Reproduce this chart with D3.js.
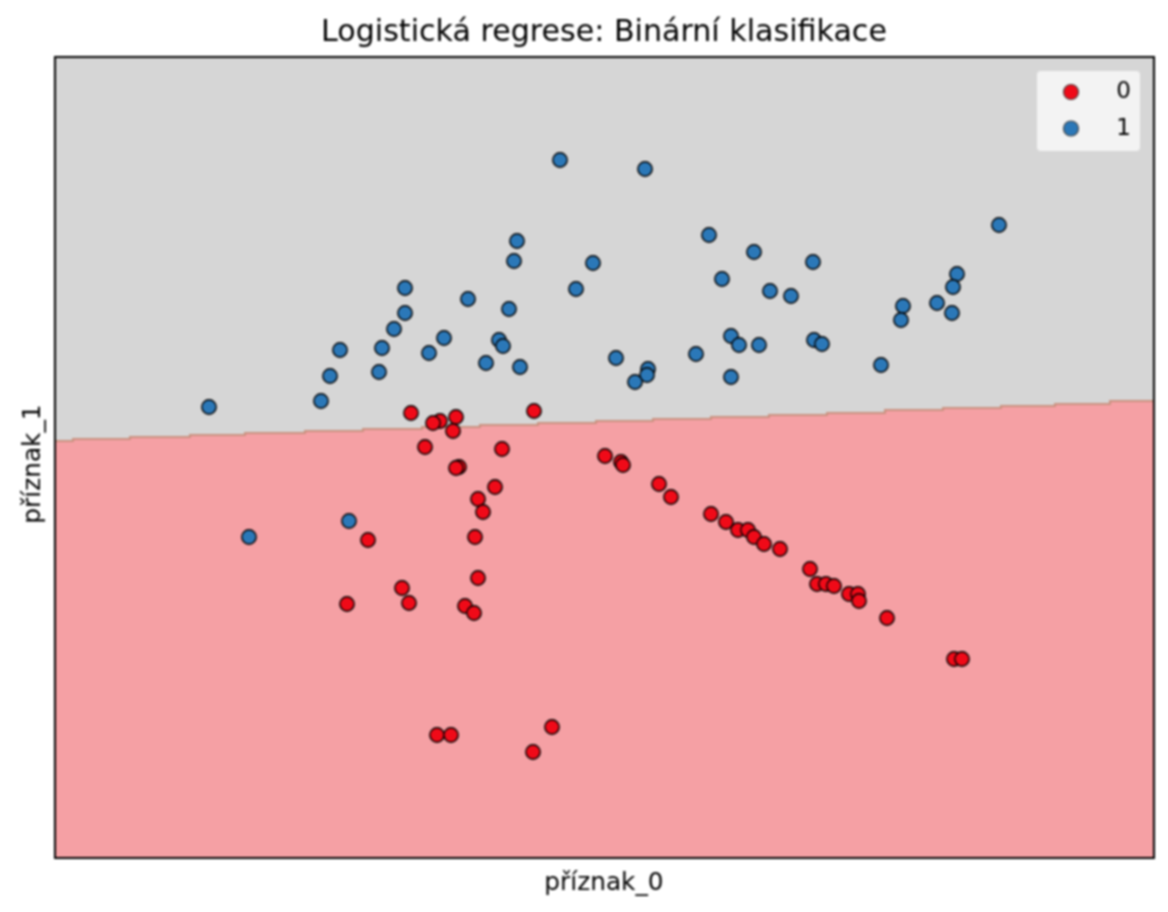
<!DOCTYPE html>
<html><head><meta charset="utf-8">
<style>html,body{margin:0;padding:0;background:#fff}svg{display:block;filter:blur(.8px)}text{font-family:"DejaVu Sans";fill:#000}</style>
<script src="https://cdn.jsdelivr.net/npm/d3@7"></script></head><body>
<svg id="c" width="1168" height="912"></svg>
<script>
const chartTitle="Logistická regrese: Binární klasifikace";
const xLabel="příznak_0", yLabel="příznak_1";
const classNames=["0","1"];
const class0X=[356,479,401,385,378,398,370,447,550,566,568,404,401,604,616,440,423,428,656,671,683,693,699,709,725,420,313,755,762,771,779,794,803,804,423,347,292,354,410,419,832,899,907,497,382,396,478];
const class0Y=[445,447,441,437,435,427,411,409,402,396,393,391,390,374,361,371,359,346,344,336,328,328,321,314,309,321,318,289,274,274,272,264,264,257,280,270,254,255,252,245,240,199,199,131,123,123,106];
const class1X=[505,590,944,654,462,699,459,538,758,902,667,521,898,350,715,736,413,848,454,350,897,846,882,339,389,676,684,704,759,767,444,448,285,327,374,561,641,431,465,826,593,592,580,676,324,275,266,154,294,194];
const class1Y=[698,689,633,623,617,606,597,595,596,584,579,569,571,570,567,562,559,552,549,545,545,538,555,529,520,522,513,513,518,514,518,512,508,510,505,500,504,495,491,493,489,483,476,481,486,482,457,451,337,321];
const boundaryX=[0,18,75,135,190,250,308,367,425,483,541,598,656,714,772,830,888,946,1000,1055,1099];
const boundaryY=[417,419,421,423,425,427,429,431,433,435,437,439,441,443,445,448,450,452,454,457,457];

const svg=d3.select("#c");
const m={l:55,t:57,r:1154,b:858};
const x=d3.scaleLinear().domain([0,1099]).range([m.l,m.r]);
const y=d3.scaleLinear().domain([0,801]).range([m.b,m.t]);
const idx=d3.range(boundaryX.length);
svg.append("path").attr("fill","#d6d6d6").attr("d",d3.area().curve(d3.curveStepAfter).x(i=>x(boundaryX[i])).y0(y(801)).y1(i=>y(boundaryY[i]))(idx));
svg.append("path").attr("fill","#f5a0a4").attr("d",d3.area().curve(d3.curveStepAfter).x(i=>x(boundaryX[i])).y0(y(0)).y1(i=>y(boundaryY[i]))(idx));
svg.append("path").attr("fill","none").attr("stroke","#c9917f").attr("stroke-width",2).attr("d",d3.line().curve(d3.curveStepAfter).x(i=>x(boundaryX[i])).y(i=>y(boundaryY[i]))(idx));
const dot=(X,Y,fill)=>svg.append("g").selectAll("circle").data(X).join("circle").attr("cx",d=>x(d)).attr("cy",(d,i)=>y(Y[i])).attr("r",7.2).attr("fill",fill).attr("stroke","#000").attr("stroke-width",1.4);
dot(class0X,class0Y,"#f00a18");
dot(class1X,class1Y,"#2b78b8");
svg.append("rect").attr("x",m.l).attr("y",m.t).attr("width",m.r-m.l).attr("height",m.b-m.t).attr("fill","none").attr("stroke","#000").attr("stroke-width",2);
svg.append("rect").attr("x",1037).attr("y",71).attr("width",103).attr("height",80).attr("rx",4).attr("fill","#f3f3f3");
const colors=["#f00a18","#2b78b8"];
classNames.forEach((n,i)=>{const ly=92+i*36.5;
 svg.append("circle").attr("cx",1071).attr("cy",ly).attr("r",7.5).attr("fill",colors[i]).attr("stroke","#444").attr("stroke-width",1.2);
 svg.append("text").attr("x",1131).attr("y",ly+6).attr("text-anchor","end").attr("font-size",23).text(n);});
svg.append("text").attr("x",604).attr("y",41).attr("text-anchor","middle").attr("font-size",30.1).text(chartTitle);
svg.append("text").attr("x",604).attr("y",890).attr("text-anchor","middle").attr("font-size",24.8).text(xLabel);
svg.append("text").attr("transform","translate(40,464) rotate(-90)").attr("text-anchor","middle").attr("font-size",24.8).text(yLabel);
</script></body></html>
